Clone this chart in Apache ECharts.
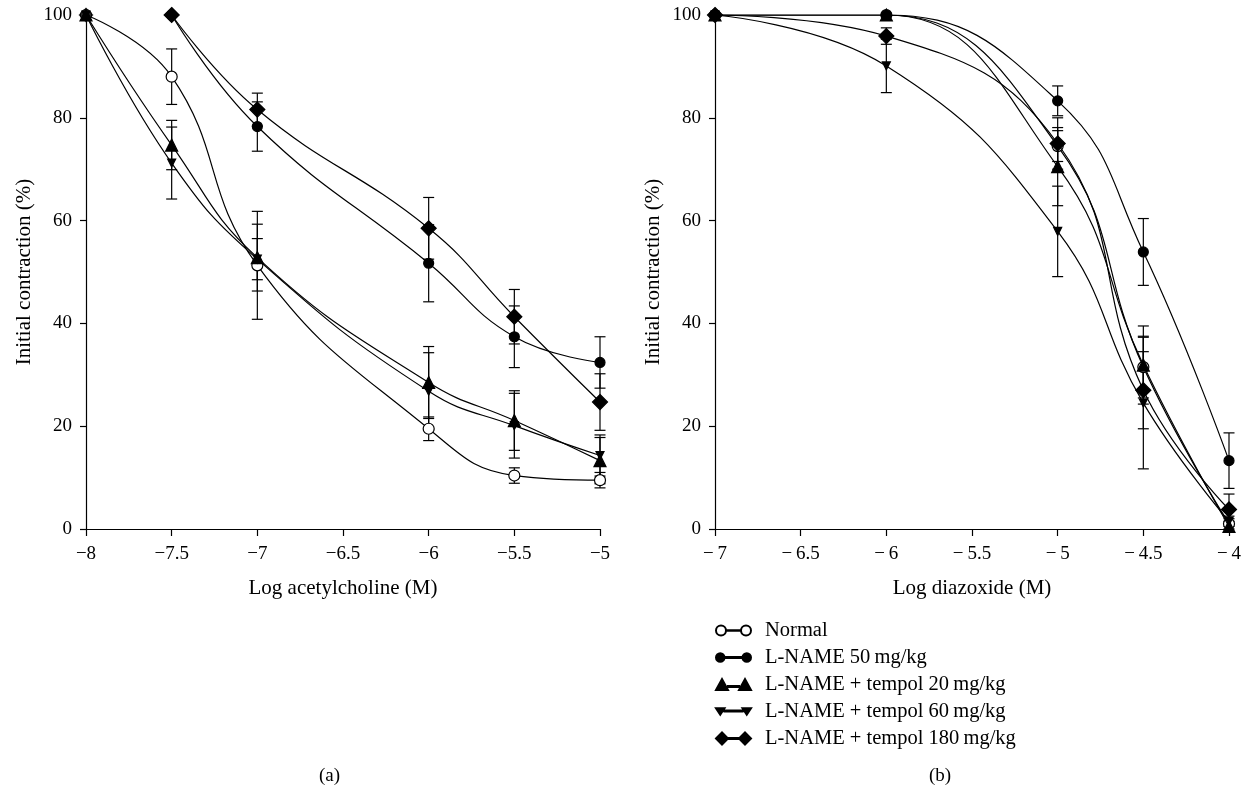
<!DOCTYPE html>
<html>
<head>
<meta charset="utf-8">
<script src="https://cdn.jsdelivr.net/npm/echarts@6/dist/echarts.min.js"></script>
<style>
html,body{margin:0;padding:0;background:#fff;}
#chart{width:1246px;height:786px;}
</style>
</head>
<body>
<div id="chart"></div>
<script>
// ---------- data ----------
const seriesNames = ['Normal', 'L-NAME 50\u2009mg/kg', 'L-NAME + tempol 20\u2009mg/kg', 'L-NAME + tempol 60\u2009mg/kg', 'L-NAME + tempol 180\u2009mg/kg'];

// Panel (a): Log acetylcholine
const xA = [-8, -7.5, -7, -6, -5.5, -5];
const normalA = [100, 88, 51.3, 19.5, 10.4, 9.5];
const lnameA  = [null, 100, 78.3, 51.7, 37.4, 32.4];
const t20A    = [100, 74.7, 52.8, 28.5, 21.1, 13.3];
const t60A    = [100, 71.2, 52.5, 26.8, 20.1, 14.3];
const t180A   = [100, 100, 81.6, 58.5, 41.3, 24.7];
const normalAErr = [0, 5.4, 10.5, 2.3, 1.5, 1.5];
const lnameAErr  = [0, 0, 4.8, 7.5, 6, 5];
const t20AErr    = [0, 4.8, 6.5, 7, 5.8, 4.5];
const t60AErr    = [0, 7, 4, 7.5, 6.3, 4];
const t180AErr   = [0, 0, 3.2, 6, 5.3, 5.5];
// the 180 mg/kg curve in (a) is drawn from -7.5; the -8 point is a marker only
const t180ALineStart = 1;

// Panel (b): Log diazoxide
const xB = [-7, -6, -5, -4.5, -4];
const normalB = [100, 100, 74.5, 31.5, 1];
const lnameB  = [100, 100, 83.3, 53.9, 13.3];
const t20B    = [100, 100, 70.5, 31.9, 0.5];
const t60B    = [100, 90.1, 57.9, 24.5, 1.5];
const t180B   = [100, 95.9, 75, 27, 3.8];
const normalBErr = [0, 0, 3, 6, 1];
const lnameBErr  = [0, 0, 2.9, 6.5, 5.4];
const t20BErr    = [0, 0, 7.6, 7.6, 1];
const t60BErr    = [0, 5.2, 8.8, 12.8, 1];
const t180BErr   = [0, 1.6, 5, 7.5, 3];

const ticksA = ['\u22128', '\u22127.5', '\u22127', '\u22126.5', '\u22126', '\u22125.5', '\u22125'];
const ticksAVal = [-8, -7.5, -7, -6.5, -6, -5.5, -5];
const ticksB = ['\u2212\u20097', '\u2212\u20096.5', '\u2212\u20096', '\u2212\u20095.5', '\u2212\u20095', '\u2212\u20094.5', '\u2212\u20094'];
const ticksBVal = [-7, -6.5, -6, -5.5, -5, -4.5, -4];
const yTicks = [0, 20, 40, 60, 80, 100];

// ---------- styling ----------
const FONT = 'Liberation Serif';
const symbols = [
  {symbol: 'circle', size: 11, color: '#fff', border: '#000', rotate: 0},
  {symbol: 'circle', size: 10, color: '#000', border: '#000', rotate: 0},
  {symbol: 'triangle', size: 12, color: '#000', border: '#000', rotate: 0},
  {symbol: 'triangle', size: 8, color: '#000', border: '#000', rotate: 180},
  {symbol: 'diamond', size: 15, color: '#000', border: '#000', rotate: 0}
];
const legendIcons = [
  'path://M0,6 A5,5 0 1,1 10,6 A5,5 0 1,1 0,6 Z M10,5.7 L25,5.7 L25,6.3 L10,6.3 Z M25,6 A5,5 0 1,1 35,6 A5,5 0 1,1 25,6 Z',
  'path://M1,6 A4,4 0 1,1 9,6 A4,4 0 1,1 1,6 Z M9,5.6 L26,5.6 L26,6.4 L9,6.4 Z M26,6 A4,4 0 1,1 34,6 A4,4 0 1,1 26,6 Z',
  'path://M0,11 L6,0 L12,11 Z M12,7.1 L23,7.1 L23,7.9 L12,7.9 Z M23,11 L29,0 L35,11 Z',
  'path://M1,3 L9,3 L5,9 Z M9,5.1 L26,5.1 L26,5.9 L9,5.9 Z M26,3 L34,3 L30,9 Z',
  'path://M0,6 L6,0 L12,6 L6,12 Z M12,5.6 L23,5.6 L23,6.4 L12,6.4 Z M23,6 L29,0 L35,6 L29,12 Z'
];

function pairs(xs, ys, start) {
  const out = [];
  for (let i = (start || 0); i < xs.length; i++) if (ys[i] !== null) out.push([xs[i], ys[i]]);
  return out;
}
function errTriples(xs, ys, es) {
  const out = [];
  for (let i = 0; i < xs.length; i++) if (ys[i] !== null && es[i] > 0) out.push([xs[i], ys[i], es[i]]);
  return out;
}

function lineSeries(idx, name, data, k) {
  const s = symbols[k];
  return {
    type: 'line', name: name, xAxisIndex: idx, yAxisIndex: idx,
    data: data, smooth: 0.45, symbol: s.symbol, symbolSize: s.size, symbolRotate: s.rotate,
    showAllSymbol: true,
    lineStyle: {color: '#000', width: 1.2},
    itemStyle: {color: s.color, borderColor: s.border, borderWidth: 1.2},
    emphasis: {disabled: true}, animation: false, z: 3 + k
  };
}
function errSeries(idx, data) {
  return {
    type: 'custom', xAxisIndex: idx, yAxisIndex: idx, data: data, z: 2, animation: false,
    silent: true,
    renderItem: function (params, api) {
      const x = api.value(0), y = api.value(1), e = api.value(2);
      const top = api.coord([x, y + e]);
      const bot = api.coord([x, y - e]);
      const cap = 5.5;
      const st = {stroke: '#000', lineWidth: 1.2};
      return {type: 'group', children: [
        {type: 'line', shape: {x1: top[0], y1: top[1], x2: bot[0], y2: bot[1]}, style: st},
        {type: 'line', shape: {x1: top[0] - cap, y1: top[1], x2: top[0] + cap, y2: top[1]}, style: st},
        {type: 'line', shape: {x1: bot[0] - cap, y1: bot[1], x2: bot[0] + cap, y2: bot[1]}, style: st}
      ]};
    }
  };
}

function xAxis(idx, min, max, ticks, vals, name) {
  return {
    type: 'value', gridIndex: idx, min: min, max: max, interval: 0.5,
    name: name, nameLocation: 'middle', nameGap: 49,
    nameTextStyle: {fontFamily: FONT, fontSize: 21, color: '#000'},
    axisLine: {lineStyle: {color: '#000', width: 1.2}},
    axisTick: {inside: false, length: 7, lineStyle: {color: '#000', width: 1.2}},
    axisLabel: {fontFamily: FONT, fontSize: 19, color: '#000', margin: 16,
      formatter: function (v) { const i = vals.indexOf(v); return i >= 0 ? ticks[i] : ''; }},
    splitLine: {show: false}
  };
}
function yAxis(idx) {
  return {
    type: 'value', gridIndex: idx, min: 0, max: 100, interval: 20,
    name: 'Initial contraction (%)', nameLocation: 'middle', nameGap: 51, nameRotate: 90,
    nameTextStyle: {fontFamily: FONT, fontSize: 21, color: '#000'},
    axisLine: {show: true, lineStyle: {color: '#000', width: 1.2}},
    axisTick: {show: true, length: 6, lineStyle: {color: '#000', width: 1.2}},
    axisLabel: {fontFamily: FONT, fontSize: 19, color: '#000', margin: 14,
      formatter: function (v) { return yTicks.indexOf(v) >= 0 ? String(v) : ''; }},
    splitLine: {show: false}
  };
}

const seriesA = [normalA, lnameA, t20A, t60A, t180A];
const errA = [normalAErr, lnameAErr, t20AErr, t60AErr, t180AErr];
const seriesB = [normalB, lnameB, t20B, t60B, t180B];
const errB = [normalBErr, lnameBErr, t20BErr, t60BErr, t180BErr];

const series = [];
for (let k = 0; k < 5; k++) {
  series.push(errSeries(0, errTriples(xA, seriesA[k], errA[k])));
  series.push(errSeries(1, errTriples(xB, seriesB[k], errB[k])));
}
for (let k = 0; k < 5; k++) {
  const start = (k === 4) ? t180ALineStart : 0;
  series.push(lineSeries(0, seriesNames[k], pairs(xA, seriesA[k], start), k));
  series.push(lineSeries(1, seriesNames[k], pairs(xB, seriesB[k]), k));
  if (k === 4) {
    // marker-only point at the start of the 180 mg/kg series in (a)
    const s = symbols[k];
    const pts = [];
    for (let i = 0; i < start; i++) pts.push([xA[i], seriesA[k][i]]);
    series.push({type: 'scatter', name: seriesNames[k], xAxisIndex: 0, yAxisIndex: 0, data: pts,
      symbol: s.symbol, symbolSize: s.size, itemStyle: {color: '#000'}, z: 10, animation: false, silent: true});
  }
}

const chart = echarts.init(document.getElementById('chart'), null, {renderer: 'canvas'});
chart.setOption({
  backgroundColor: '#fff',
  animation: false,
  title: [
    {text: '(a)', left: 314, top: 762, textStyle: {fontFamily: FONT, fontSize: 19, fontWeight: 'normal', color: '#000'}},
    {text: '(b)', left: 924, top: 762, textStyle: {fontFamily: FONT, fontSize: 19, fontWeight: 'normal', color: '#000'}}
  ],
  grid: [
    {left: 86, width: 514, top: 15, height: 514, containLabel: false},
    {left: 715, width: 514, top: 15, height: 514, containLabel: false}
  ],
  xAxis: [
    xAxis(0, -8, -5, ticksA, ticksAVal, 'Log acetylcholine (M)'),
    xAxis(1, -7, -4, ticksB, ticksBVal, 'Log diazoxide (M)')
  ],
  yAxis: [yAxis(0), yAxis(1)],
  legend: {
    orient: 'vertical', left: 710, top: 615, itemGap: 6, itemWidth: 35, itemHeight: 12,
    data: seriesNames.map(function (n, i) { return {name: n, icon: legendIcons[i]}; }),
    textStyle: {fontFamily: FONT, fontSize: 20.5, color: '#000', padding: [0, 0, 0, 9]},
    selectedMode: false
  },
  series: series
});
</script>
</body>
</html>
